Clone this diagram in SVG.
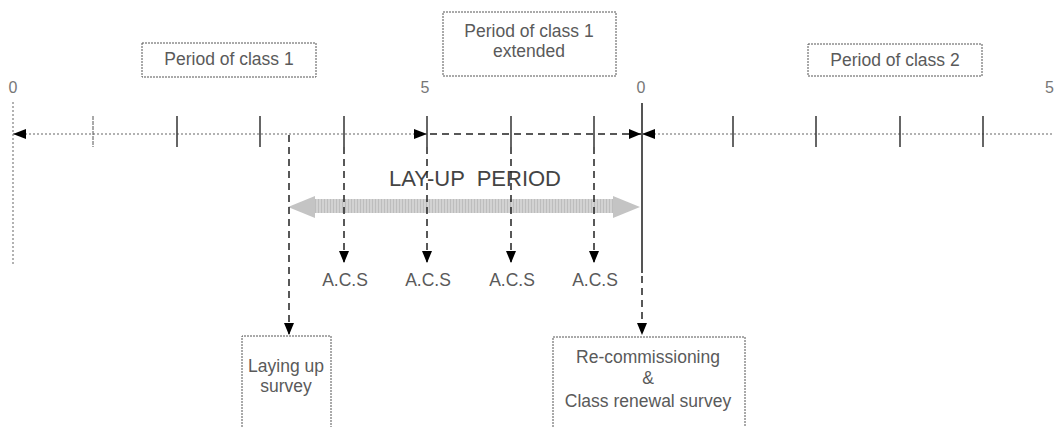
<svg xmlns="http://www.w3.org/2000/svg" width="1054" height="427" viewBox="0 0 1054 427">
<style>
.t{font-family:"Liberation Sans",Arial,sans-serif;font-size:17.5px;fill:#5a5a5a;text-anchor:middle}
.n{font-family:"Liberation Sans",Arial,sans-serif;font-size:16px;fill:#777;text-anchor:middle}
.box{fill:#fff;stroke:#555;stroke-width:1;stroke-dasharray:2 1}
.dot{stroke:#999;stroke-width:1.5;stroke-dasharray:2 2;fill:none}
.tick{stroke:#333;stroke-width:1.5}
.dash{stroke:#222;stroke-width:1.5;stroke-dasharray:7 5;fill:none}
</style>
<defs>
<marker id="ah" viewBox="0 0 12 10" refX="12" refY="5" markerWidth="12" markerHeight="10" markerUnits="userSpaceOnUse" orient="auto">
<path d="M0,0 L12,5 L0,10 Z" fill="#000"/>
</marker>
<pattern id="stripe" width="3" height="10" patternUnits="userSpaceOnUse">
<rect width="3" height="10" fill="#d2d2d2"/>
<rect width="1" height="10" fill="#bdbdbd"/>
</pattern>
</defs>
<rect width="1054" height="427" fill="#fff"/>

<g id="top-labels">
<g id="box-class1"><rect class="box" x="142" y="43" width="174" height="34"/><text class="t" x="229" y="65">Period of class 1</text></g>
<g id="box-class1-ext"><rect class="box" x="443" y="12" width="173" height="64"/><text class="t" x="529" y="37">Period of class 1</text><text class="t" x="529" y="57">extended</text></g>
<g id="box-class2"><rect class="box" x="808" y="44" width="174" height="32"/><text class="t" x="895" y="66">Period of class 2</text></g>
</g>

<g id="numbers">
<text class="n" x="13" y="93">0</text>
<text class="n" x="425" y="93">5</text>
<text class="n" x="641" y="93">0</text>
<text class="n" x="1045" y="93" text-anchor="start" style="text-anchor:start">5</text>
</g>

<g id="axis">
<line class="dot" x1="13" y1="102" x2="13" y2="265"/>
<line class="dot" x1="13" y1="134" x2="427" y2="134"/>
<path d="M13,134 L26,129 L26,139 Z" fill="#000"/>
<path d="M427,134 L414,129 L414,139 Z" fill="#000"/>
<line class="dash" x1="430" y1="134" x2="641" y2="134" marker-end="url(#ah)"/>
<line class="dot" x1="642" y1="134" x2="1054" y2="134"/>
<path d="M642,134 L655,129 L655,139 Z" fill="#000"/>
<line x1="93" y1="116" x2="93" y2="147" stroke="#555" stroke-width="1" stroke-dasharray="4 1"/>
<line class="tick" x1="177" y1="116" x2="177" y2="147"/>
<line class="tick" x1="260" y1="116" x2="260" y2="147"/>
<line class="tick" x1="344" y1="116" x2="344" y2="147"/>
<line class="tick" x1="427" y1="116" x2="427" y2="147"/>
<line class="tick" x1="511" y1="116" x2="511" y2="147"/>
<line class="tick" x1="594" y1="116" x2="594" y2="147"/>
<line class="tick" x1="733" y1="116" x2="733" y2="147"/>
<line class="tick" x1="816" y1="116" x2="816" y2="147"/>
<line class="tick" x1="900" y1="116" x2="900" y2="147"/>
<line class="tick" x1="983" y1="116" x2="983" y2="147"/>
<line x1="642" y1="103" x2="642" y2="273" stroke="#555" stroke-width="2"/>
</g>

<g id="layup">
<text x="475" y="186" font-family="'Liberation Sans',Arial,sans-serif" font-size="22" fill="#444" text-anchor="middle" xml:space="preserve">LAY-UP  PERIOD</text>
<rect x="314" y="199" width="300" height="14" fill="url(#stripe)"/>
<path d="M288,207 L315,196 L315,218 Z" fill="#c4c4c4"/>
<path d="M640,207 L613,196 L613,218 Z" fill="#c4c4c4"/>
</g>

<g id="connectors">
<line class="dash" x1="289" y1="135" x2="289" y2="335" marker-end="url(#ah)"/>
<line class="dash" x1="344" y1="147" x2="344" y2="263" marker-end="url(#ah)"/>
<line class="dash" x1="427" y1="147" x2="427" y2="263" marker-end="url(#ah)"/>
<line class="dash" x1="511" y1="147" x2="511" y2="263" marker-end="url(#ah)"/>
<line class="dash" x1="594" y1="147" x2="594" y2="263" marker-end="url(#ah)"/>
<line class="dash" x1="642" y1="276" x2="642" y2="335" marker-end="url(#ah)"/>
</g>

<g id="acs">
<text class="t" x="345" y="286">A.C.S</text>
<text class="t" x="428" y="286">A.C.S</text>
<text class="t" x="512" y="286">A.C.S</text>
<text class="t" x="595" y="286">A.C.S</text>
</g>

<g id="box-laying-up">
<path class="box" d="M242,430 L242,336 L331,336 L331,430"/>
<text class="t" x="286" y="372">Laying up</text>
<text class="t" x="286" y="392">survey</text>
</g>
<g id="box-recommissioning">
<path class="box" d="M553,430 L553,337 L745,337 L745,430"/>
<text class="t" x="648" y="363">Re-commissioning</text>
<text class="t" x="648" y="384">&amp;</text>
<text class="t" x="648" y="407">Class renewal survey</text>
</g>
</svg>
